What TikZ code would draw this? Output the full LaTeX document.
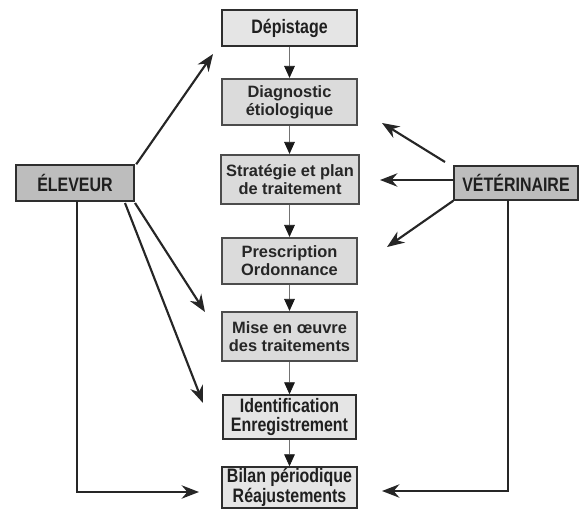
\documentclass[tikz,border=0pt]{standalone}
\usepackage{fontspec}
\setmainfont{Liberation Sans}
\newfontfamily\narrowsans{Liberation Sans}[FakeStretch=0.82]
\usetikzlibrary{arrows.meta}
\begin{document}
\begin{tikzpicture}[x=0.75pt,y=-0.75pt,
  box/.style={draw=black!82, line width=1.1pt, fill=black!10, inner sep=0pt, align=center, text=black!88},
  bigbox/.style={box, font=\narrowsans\bfseries\fontsize{14.6}{13.7}\selectfont},
  midbox/.style={box, draw=black!70, line width=1.6pt, fill=black!14, font=\bfseries\fontsize{12.3}{13.3}\selectfont, text=black!85},
  actor/.style={bigbox, fill=black!26},
  chain/.style={draw=black!55, line width=0.6pt, -{Triangle[length=9pt,width=8pt,color=black!90]}},
  side/.style={draw=black!85, line width=1.6pt, -{Stealth[length=13pt,width=10pt]}}]
\useasboundingbox (0,0) rectangle (580,509);

% central chain
\node[bigbox, minimum width=101.25pt, minimum height=27pt] (dep) at (289.5,28) {Dépistage};
\node[midbox, minimum width=101.25pt, minimum height=34.5pt] (diag) at (289.5,102) {Diagnostic\\étiologique};
\node[midbox, minimum width=103.5pt, minimum height=36.75pt] (strat) at (290,179.5) {Stratégie et plan\\de traitement};
\node[midbox, minimum width=101.25pt, minimum height=34.5pt] (presc) at (289.5,261) {Prescription\\Ordonnance};
\node[midbox, minimum width=101.25pt, minimum height=36.75pt] (mise) at (289.5,336.5) {Mise en œuvre\\des traitements};
\node[bigbox, minimum width=99.75pt, minimum height=33pt] (ident) at (289.5,417) {Identification\\Enregistrement};
\node[bigbox, minimum width=101.25pt, minimum height=30.75pt] (bilan) at (289.5,487.5) {Bilan périodique\\Réajustements};

% actors
\node[actor, minimum width=88.5pt, minimum height=27pt] (elev) at (75,183) {ÉLEVEUR};
\node[actor, minimum width=93pt, minimum height=25.5pt] (vet) at (516,183) {VÉTÉRINAIRE};

\draw[chain] (dep.south) -- (diag.north);
\draw[chain] (diag.south) -- (strat.north -| diag.south);
\draw[chain] (strat.south -| presc.north) -- (presc.north);
\draw[chain] (presc.south) -- (mise.north);
\draw[chain] (mise.south) -- (ident.north);
\draw[chain] (ident.south) -- (bilan.north);

% free ends
\coordinate (e1t) at (213,54);
\coordinate (e2s) at (135,203);
\coordinate (e2t) at (205,312);
\coordinate (e3s) at (125,203);
\coordinate (e3t) at (203,403);
\coordinate (e4s) at (77,201);
\coordinate (e4t) at (199,492);
\coordinate (v1s) at (445,162);
\coordinate (v1t) at (382,123);
\coordinate (v2s) at (454,180);
\coordinate (v2t) at (380,180);
\coordinate (v3t) at (387,247);
\coordinate (v4s) at (508,200);
\coordinate (v4t) at (382,491);

\draw[side] ([shift={(1.5,0)}]elev.north east) -- (e1t);
\draw[side] (e2s) -- (e2t);
\draw[side] (e3s) -- (e3t);
\draw[side] (e4s) |- (e4t);
\draw[side] (v1s) -- (v1t);
\draw[side] (v2s) -- (v2t);
\draw[side] (vet.south west) -- (v3t);
\draw[side] (v4s) |- (v4t);
\end{tikzpicture}
\end{document}
